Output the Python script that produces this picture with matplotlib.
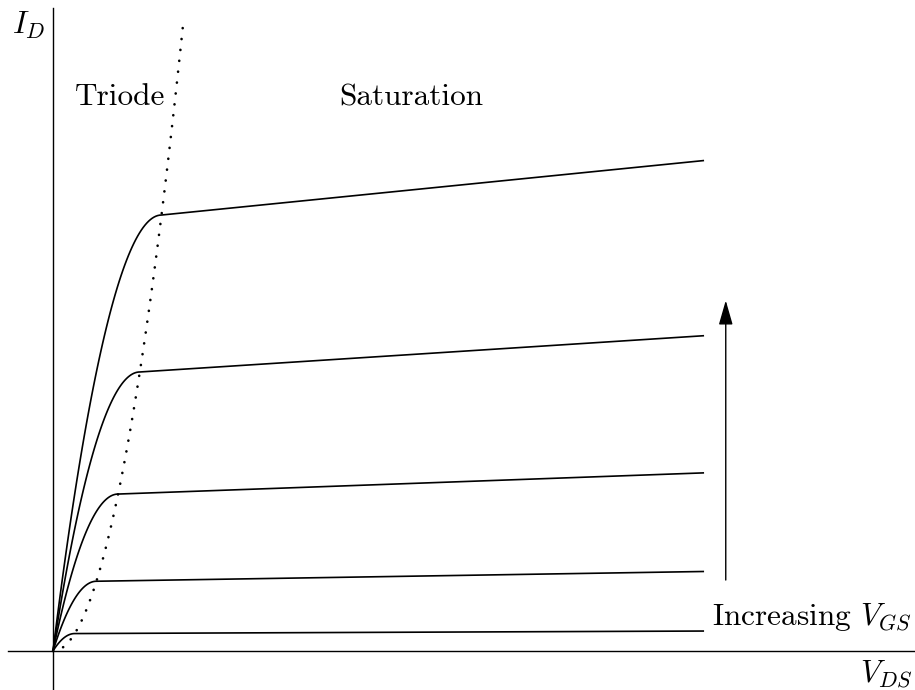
import numpy as np
import matplotlib
matplotlib.use("Agg")
import matplotlib.pyplot as plt

plt.rcParams["font.family"] = "serif"
plt.rcParams["font.serif"] = ["cmr10"]
plt.rcParams["mathtext.fontset"] = "cm"
plt.rcParams["axes.unicode_minus"] = False

# overdrive voltages (knee of each curve), arbitrary units
v_ov = [1, 2, 3, 4, 5]
v_end = 30.0        # right end of the curves
lam = 0.005         # channel-length modulation
v_edge = 6.0        # end of the triode/saturation boundary

fig = plt.figure(figsize=(9.15, 6.9), dpi=100)
ax = fig.add_axes([0, 0, 1, 1])
ax.set_xlim(-2.442, 39.72)
ax.set_ylim(-2.236, 37.33)
ax.axis("off")

# axes
ax.plot([-2.07, 39.72], [0, 0], color="black", lw=1.0)
ax.plot([0, 0], [-2.236, 36.87], color="black", lw=1.0)

# drain characteristics: square law in triode, slight slope in saturation
for vo in v_ov:
    vt = np.linspace(0, vo, 60)
    it = 2 * vo * vt - vt ** 2
    vs = np.array([vo, v_end])
    isat = vo ** 2 * (1 + lam * (vs - vo))
    ax.plot(np.r_[vt, vs], np.r_[it, isat], color="black", lw=1.2,
            solid_capstyle="butt")

# triode / saturation boundary
vb = np.linspace(0, v_edge, 100)
ax.plot(vb, vb ** 2, color="black", lw=1.9, linestyle=(0, (0.05, 4.1)),
        dash_capstyle="round")

# increasing V_GS arrow
ax.annotate("", xy=(31.0, 20.1), xytext=(31.0, 4.07),
            arrowprops=dict(arrowstyle="-|>,head_length=1.5,head_width=0.43",
                            color="black", lw=1.0, shrinkA=0, shrinkB=0))

fs = 22.5
ax.text(1.01, 31.3, "Triode", fontsize=fs, va="baseline", ha="left")
ax.text(13.18, 31.3, "Saturation", fontsize=fs, va="baseline", ha="left")
ax.text(30.37, 1.49, r"Increasing $V_{GS}$", fontsize=fs, va="baseline",
        ha="left")
ax.text(-1.89, 35.4, r"$I_D$", fontsize=fs, va="baseline", ha="left")
ax.text(37.2, -1.78, r"$V_{DS}$", fontsize=fs, va="baseline", ha="left")

fig.savefig("out.png", dpi=100)
